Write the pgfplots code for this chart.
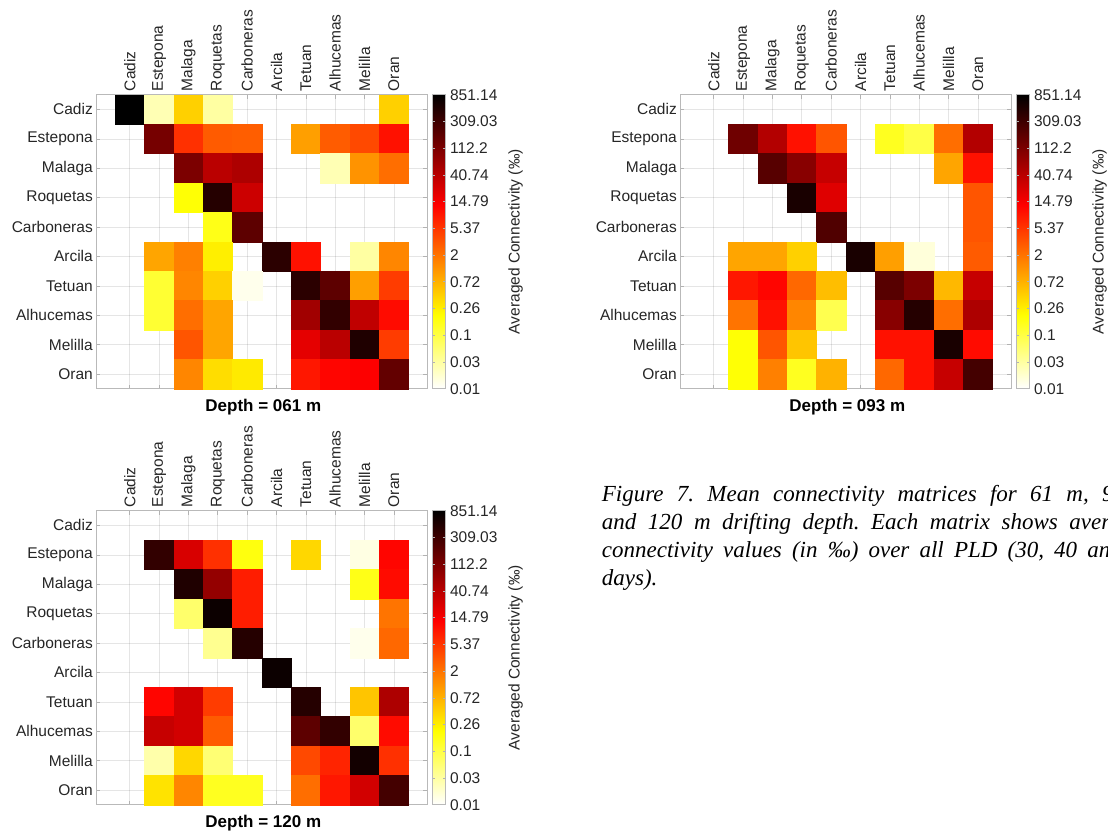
\documentclass[border=0pt]{standalone}
\usepackage{fontspec}
\setmainfont{Liberation Sans}
\newfontfamily\capfont{Liberation Serif}
\usepackage{pgfplots}
\usepackage{pgfplotstable}
\pgfplotsset{compat=1.18}

\newcommand\tl{\fontsize{15.5}{18}\selectfont}

\pgfplotstableread{
c r v
0 0 851.14
1 0 0.028
2 0 0.43
3 0 0.034
9 0 0.43
1 1 124
2 1 5.94
3 1 2.93
4 1 2.8
6 1 0.96
7 1 2.9
8 1 3.96
9 1 9.87
2 2 112
3 2 40.7
4 2 49.9
7 2 0.028
8 2 1.18
9 2 2.16
2 3 0.19
3 3 463
4 3 30.1
3 4 0.155
4 4 186
1 5 0.87
2 5 1.59
3 5 0.26
5 5 419
6 5 9.87
8 5 0.034
9 5 1.44
1 6 0.114
2 6 1.44
3 6 0.43
4 6 0.0151
6 6 419
7 6 186
8 6 0.96
9 6 4.85
1 7 0.114
2 7 2.16
3 7 0.87
6 7 61.1
7 7 378
8 7 36.8
9 7 10.9
2 8 3.24
3 8 0.87
6 8 20.1
7 8 40.7
8 8 513
9 8 4.85
2 9 1.44
3 9 0.35
4 9 0.28
6 9 8.9
7 9 12.1
8 9 13.4
9 9 168
}\tabA

\pgfplotstableread{
c r v
1 1 137
2 1 45.1
3 1 9.87
4 1 3.24
6 1 0.14
7 1 0.093
8 1 2.16
9 1 45.1
2 2 206
3 2 91.6
4 2 33.3
8 2 0.87
9 2 9.87
3 3 568
4 3 22.2
9 3 3.24
4 4 228
9 4 3.24
1 5 0.87
2 5 0.87
3 5 0.43
5 5 568
6 5 0.96
7 5 0.0185
9 5 2.93
1 6 8.9
2 6 12.1
3 6 2.39
4 6 0.58
6 6 206
7 6 112
8 6 0.64
9 6 33.3
1 7 1.95
2 7 9.87
3 7 1.44
4 7 0.084
6 7 91.6
7 7 463
8 7 2.16
9 7 49.9
1 8 0.19
2 8 3.24
3 8 0.52
6 8 9.87
7 8 9.87
8 8 568
9 8 10.9
1 9 0.19
2 9 1.59
3 9 0.14
4 9 0.71
6 9 2.39
7 9 9.87
8 9 33.3
9 9 279
}\tabB

\pgfplotstableread{
c r v
1 1 378
2 1 24.5
3 1 5.94
4 1 0.171
6 1 0.386
8 1 0.0167
9 1 12.1
2 2 513
3 2 74.8
4 2 8.06
8 2 0.155
9 2 10.9
2 3 0.062
3 3 695
4 3 8.06
9 3 1.95
3 4 0.0415
4 4 463
8 4 0.0151
9 4 2.39
5 5 695
1 6 12.1
2 6 27.2
3 6 4.85
6 6 463
8 6 0.52
9 6 49.9
1 7 33.3
2 7 27.2
3 7 2.93
6 7 186
7 7 378
8 7 0.062
9 7 10.9
1 8 0.031
2 8 0.386
3 8 0.056
6 8 3.96
7 8 7.28
8 8 628
9 8 5.94
1 9 0.315
2 9 1.44
3 9 0.14
4 9 0.14
6 9 2.16
7 9 8.9
8 9 27.2
9 9 279
}\tabC

\pgfplotsset{
  hm/.style={
    scale only axis, width=331pt, height=294pt,
    xmin=-1.14, xmax=10.14, ymin=-0.5, ymax=9.5, y dir=reverse,
    xtick={0,...,9}, ytick={0,...,9},
    xticklabels={Cadiz,Estepona,Malaga,Roquetas,Carboneras,Arcila,Tetuan,Alhucemas,Melilla,Oran},
    yticklabels={Cadiz,Estepona,Malaga,Roquetas,Carboneras,Arcila,Tetuan,Alhucemas,Melilla,Oran},
    xticklabel pos=right,
    xticklabel style={rotate=90, anchor=west},
    tick label style={font=\tl, text=black!85},
    grid=major, grid style={black, opacity=0.1, line width=0.6pt},
    axis on top,
    axis line style={gray!55, line width=0.6pt},
    tick align=inside, major tick length=4pt, tick style={gray!60, line width=0.6pt},
    point meta min=-4.3975, point meta max=6.7466,
    colormap={hotr}{rgb(0pt)=(1,1,1) rgb(25pt)=(1,1,0) rgb(62.5pt)=(1,0,0) rgb(100pt)=(0,0,0)},
    colorbar,
    colorbar style={
      at={(parent axis.north east)}, anchor=north west, xshift=-3.7pt,
      scale only axis, width=13.4pt, height=294pt,
      ytick={-4.3975,-3.3844,-2.3713,-1.3582,-0.3451,0.668,1.6811,2.6942,3.7073,4.7204,5.7335,6.7466},
      yticklabels={0.01,0.03,0.1,0.26,0.72,2,5.37,14.79,40.74,112.2,309.03,851.14},
      yticklabel style={font=\tl, text=black!85, xshift=1pt},
      ylabel={Averaged Connectivity (‰)},
      ylabel style={font=\tl, text=black!85},
      ylabel shift=4pt,
      axis line style={gray!55, line width=0.6pt},
      tick style={gray!60, line width=0.6pt}, major tick length=3pt, tick align=inside,
    },
  },
  cell/.style={scatter, only marks, mark=square*, mark size=14.7pt,
    point meta={ln(\thisrow{v})},
    scatter/use mapped color={draw=mapped color, fill=mapped color},
    mark options={line width=0.3pt}},
}

\begin{document}
\begin{tikzpicture}
\begin{axis}[hm, at={(96.3pt,-94.7pt)}, anchor=north west]
\addplot[cell] table[x=c, y=r] {\tabA};
\end{axis}
\node[font={\fontsize{17}{20}\selectfont\bfseries}] at (263.3pt,-406.7pt) {Depth = 061 m};

\begin{axis}[hm, at={(680.3pt,-94.7pt)}, anchor=north west]
\addplot[cell] table[x=c, y=r] {\tabB};
\end{axis}
\node[font={\fontsize{17}{20}\selectfont\bfseries}] at (847.3pt,-406.7pt) {Depth = 093 m};

\begin{axis}[hm, at={(96.3pt,-510.7pt)}, anchor=north west]
\addplot[cell] table[x=c, y=r] {\tabC};
\end{axis}
\node[font={\fontsize{17}{20}\selectfont\bfseries}] at (263.3pt,-822.7pt) {Depth = 120 m};

\begin{scope}
\clip (0pt,0pt) rectangle (1108pt,-834pt);
\node[anchor=base west, inner sep=0pt] at (601.7pt,-501.7pt) {\parbox[t]{553pt}{\frenchspacing\capfont\itshape\fontsize{23}{28}\selectfont
Figure 7. Mean connectivity matrices for 61 m, 93 m\linebreak
and 120 m drifting depth. Each matrix shows averaged\linebreak
connectivity values (in ‰) over all PLD (30, 40 and 50\linebreak
days).}};
\end{scope}

\pgfresetboundingbox
\useasboundingbox (0pt,0pt) rectangle (1108pt,-834pt);
\end{tikzpicture}
\end{document}
